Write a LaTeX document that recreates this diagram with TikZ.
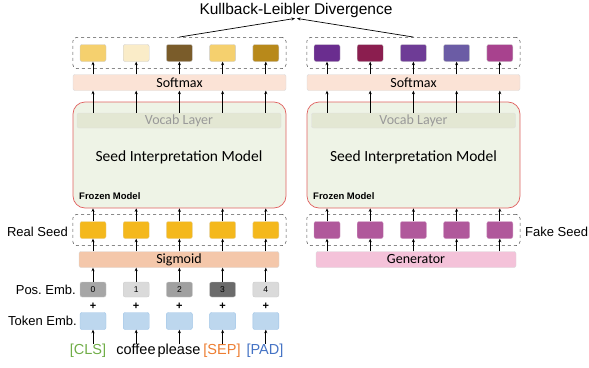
\documentclass[tikz,border=0pt]{standalone}
\usepackage{fontspec}
\setmainfont{Liberation Sans}
\newfontfamily\calfont{Carlito}
\usetikzlibrary{arrows.meta,positioning,fit,calc}
% colours
\definecolor{ltA}{HTML}{F5D06E}
\definecolor{ltB}{HTML}{FAECC8}
\definecolor{ltC}{HTML}{7A5C2A}
\definecolor{ltD}{HTML}{F5D06E}
\definecolor{ltE}{HTML}{B8891A}
\definecolor{rtA}{HTML}{6A2D8F}
\definecolor{rtB}{HTML}{8B1E4F}
\definecolor{rtC}{HTML}{6E3C96}
\definecolor{rtD}{HTML}{6B5CA5}
\definecolor{rtE}{HTML}{A8428E}
\definecolor{posA}{HTML}{A6A6A6}
\definecolor{posB}{HTML}{DADADA}
\definecolor{posC}{HTML}{A0A0A0}
\definecolor{posD}{HTML}{6B6B6B}
\definecolor{posE}{HTML}{DADADA}
\definecolor{softfill}{HTML}{FBE3D6}
\definecolor{modelfill}{HTML}{EEF3E6}
\definecolor{modeldraw}{HTML}{E06060}
\definecolor{vocabfill}{HTML}{E3E7D3}
\definecolor{realseed}{HTML}{F4B81C}
\definecolor{fakeseed}{HTML}{B0589B}
\definecolor{sigfill}{HTML}{F4C7AA}
\definecolor{genfill}{HTML}{F4C2D9}
\definecolor{tokfill}{HTML}{BDD7EE}
\definecolor{tokdraw}{HTML}{9DC3E6}
\definecolor{clsgreen}{HTML}{70AD47}
\definecolor{sepor}{HTML}{ED7D31}
\definecolor{padblue}{HTML}{4472C4}
\tikzset{
  cell/.style={rectangle, rounded corners=2pt, draw=gray!40, line width=0.4pt,
               minimum width=26pt, minimum height=17pt, inner sep=0pt},
  poscell/.style={cell, minimum height=15pt, font=\fontsize{8.5}{9}\selectfont},
  groupbox/.style={rectangle, dashed, draw=black!70, rounded corners=4pt,
                   line width=0.5pt, inner sep=7pt},
  layerbox/.style={rectangle, rounded corners=2pt, draw=gray!30, line width=0.4pt,
                   minimum height=16pt, inner sep=0pt,
                   font=\calfont\fontsize{14}{15}\selectfont},
  modelbox/.style={rectangle, rounded corners=12pt, draw=modeldraw, line width=0.7pt,
                   fill=modelfill, minimum width=213pt, minimum height=106pt},
  vocabbox/.style={rectangle, rounded corners=2pt, draw=gray!25, fill=vocabfill,
                   minimum width=204pt, minimum height=15pt, inner sep=0pt,
                   text=gray!80, font=\calfont\fontsize{14}{15}\selectfont},
  simtext/.style={font=\calfont\fontsize{15.5}{17}\selectfont},
  frozen/.style={font=\bfseries\fontsize{9.5}{10}\selectfont, inner sep=0pt},
  sidelabel/.style={font=\fontsize{13}{14}\selectfont, inner sep=0pt},
  word/.style={font=\fontsize{14.5}{16}\selectfont, inner sep=0pt,
               text height=10.5pt, text depth=3pt},
  arr/.style={-{Stealth[length=3.5pt, width=3pt]}, line width=0.7pt},
}
\begin{document}
\begin{tikzpicture}[x=1pt,y=-1pt]
  \useasboundingbox (0,0) rectangle (589,367);
  \node[font=\fontsize{15.5}{17}\selectfont, inner sep=1pt] (kl) at (296,10) {Kullback-Leibler Divergence};

  % real branch
  \foreach \i/\c in {1/ltA,2/ltB,3/ltC,4/ltD,5/ltE}
    \node[cell, fill=\c] (lt\i) at ({93+43.2*(\i-1)},53) {};
  \node[groupbox, fit=(lt1)(lt5)] (lout) {};
  \node[layerbox, fill=softfill, minimum width=213pt] (lsm) at (179.5,82.5) {Softmax};
  \node[modelbox] (lmod) at (179.5,155) {};
  \node[vocabbox] (lvoc) at (179,120.5) {Vocab Layer};
  \node[simtext] (lsim) at (179,157) {Seed Interpretation Model};
  \node[frozen, anchor=west] (lfro) at (79,196) {Frozen Model};
  \foreach \i in {1,...,5}
    \node[cell, fill=realseed, draw=realseed!80!black!40] (ls\i) at ({93+43.2*(\i-1)},230) {};
  \node[groupbox, fit=(ls1)(ls5)] (lseed) {};
  \node[sidelabel, anchor=east] (lreal) at (68,232) {Real Seed};
  \node[layerbox, fill=sigfill, minimum width=200pt] (sig) at (179,259.5) {Sigmoid};
  \foreach \i/\c in {1/posA,2/posB,3/posC,4/posD,5/posE}
    \node[poscell, fill=\c] (pe\i) at ({93+43.2*(\i-1)},289.5) {\the\numexpr\i-1\relax};
  \foreach \i in {1,...,5}
    \node[font=\bfseries\fontsize{11}{11}\selectfont, inner sep=0pt] (pl\i) at ({93+43.2*(\i-1)},306) {+};
  \foreach \i in {1,...,5}
    \node[cell, fill=tokfill, draw=tokdraw] (te\i) at ({93+43.2*(\i-1)},321) {};
  \node[sidelabel, anchor=east] (lpos) at (76,290) {Pos.\ Emb.};
  \node[sidelabel, anchor=east] (ltok) at (77,321) {Token Emb.};
  \node[word, text=clsgreen] (w1) at (88,351) {[CLS]};
  \node[word] (w2) at (136,351) {coffee};
  \node[word] (w3) at (179,351) {please};
  \node[word, text=sepor] (w4) at (222,351) {[SEP]};
  \node[word, text=padblue] (w5) at (265,351) {[PAD]};

  % fake branch
  \foreach \i/\c in {1/rtA,2/rtB,3/rtC,4/rtD,5/rtE}
    \node[cell, fill=\c] (rt\i) at ({327+43.2*(\i-1)},53) {};
  \node[groupbox, fit=(rt1)(rt5)] (rout) {};
  \node[layerbox, fill=softfill, minimum width=213pt] (rsm) at (413.5,82.5) {Softmax};
  \node[modelbox] (rmod) at (413.5,155) {};
  \node[vocabbox] (rvoc) at (413.5,120.5) {Vocab Layer};
  \node[simtext] (rsim) at (413.5,157) {Seed Interpretation Model};
  \node[frozen, anchor=west] (rfro) at (313,196) {Frozen Model};
  \foreach \i in {1,...,5}
    \node[cell, fill=fakeseed, draw=fakeseed!60] (rs\i) at ({327+43.2*(\i-1)},230) {};
  \node[groupbox, fit=(rs1)(rs5)] (rseed) {};
  \node[sidelabel, anchor=west] (rfake) at (525,232) {Fake Seed};
  \node[layerbox, fill=genfill, minimum width=200pt] (gen) at (416,259.5) {Generator};

  % connectors
  \foreach \s in {l,r} {
    \foreach \i in {1,...,5} {
      \draw[arr] (\s t\i |- \s sm.north) -- (\s t\i.south);
      \draw[arr] (\s t\i |- \s voc.north) -- (\s t\i |- \s sm.south);
      \draw[arr] (\s s\i.north) -- (\s s\i |- \s mod.south);
    }
  }
  \foreach \i in {1,...,5} {
    \draw[arr] (ls\i |- sig.north) -- (ls\i.south);
    \draw[arr] (rs\i |- gen.north) -- (rs\i.south);
    \draw[arr] (pe\i.north) -- (pe\i |- sig.south);
    \draw[arr] (te\i |- w3.north) -- (te\i.south);
  }
  \draw[arr] (lout.north) -- ([xshift=-1pt]kl.south);
  \draw[arr] (rout.north) -- ([xshift=1pt]kl.south);
\end{tikzpicture}
\end{document}
